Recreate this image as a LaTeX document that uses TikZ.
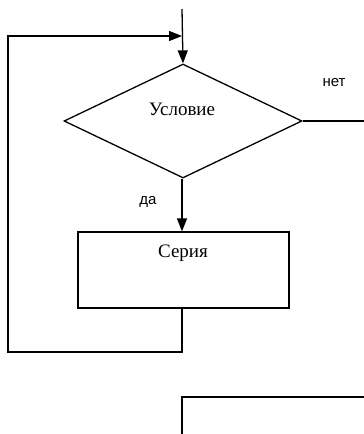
\documentclass[tikz,border=0pt]{standalone}
\usepackage{fontspec}
\setmainfont{Liberation Serif}
\newfontfamily\labelsans{Liberation Sans}
\usetikzlibrary{shapes.geometric,arrows.meta}
\tikzset{
  line/.style={line width=1.3pt, black},
  arr/.style={line, -{Triangle[length=13pt,width=10pt]}},
  decision/.style={draw, line width=1.3pt, diamond, minimum width=238pt, minimum height=114pt, inner sep=0pt},
  process/.style={draw, line width=1.3pt, rectangle, minimum width=211pt, minimum height=76pt, inner sep=0pt},
  boxtext/.style={font=\fontsize{19}{21}\selectfont, inner sep=0pt},
  yesno/.style={font=\labelsans\fontsize{15}{17}\selectfont, inner sep=0pt},
}
\begin{document}
\begin{tikzpicture}[x=1pt,y=-1pt]
\useasboundingbox (0,0) rectangle (364,434);
\node[decision] (cond) at (183,121) {};
\node[boxtext] (condtext) at (182,109) {Условие};
\node[process] (body) at (183.5,270) {};
\node[boxtext] (bodytext) at (183,253) {Серия};
\node[yesno] (no) at (334,83) {нет};
\node[yesno] (yes) at (148,202) {да};
\coordinate (top) at (182,9);
\coordinate (join) at (182,36);
\coordinate (loopL) at (8,36);
\coordinate (loopBL) at (8,352);
\coordinate (loopBR) at (182,352);
\coordinate (exitR) at (364,121);
\coordinate (nextTop) at (182,397);
\coordinate (nextBot) at (182,434);
\coordinate (nextR) at (364,397);
\draw[arr] (top) -- (cond.north);
\draw[arr] (body.south -| loopBR) -- (loopBR) -- (loopBL) -- (loopL) -- (join);
\draw[arr] (cond.south -| join) -- (body.north -| join);
\draw[line] (cond.east) -- (exitR);
\draw[line] (nextBot) -- (nextTop) -- (nextR);
\end{tikzpicture}
\end{document}
